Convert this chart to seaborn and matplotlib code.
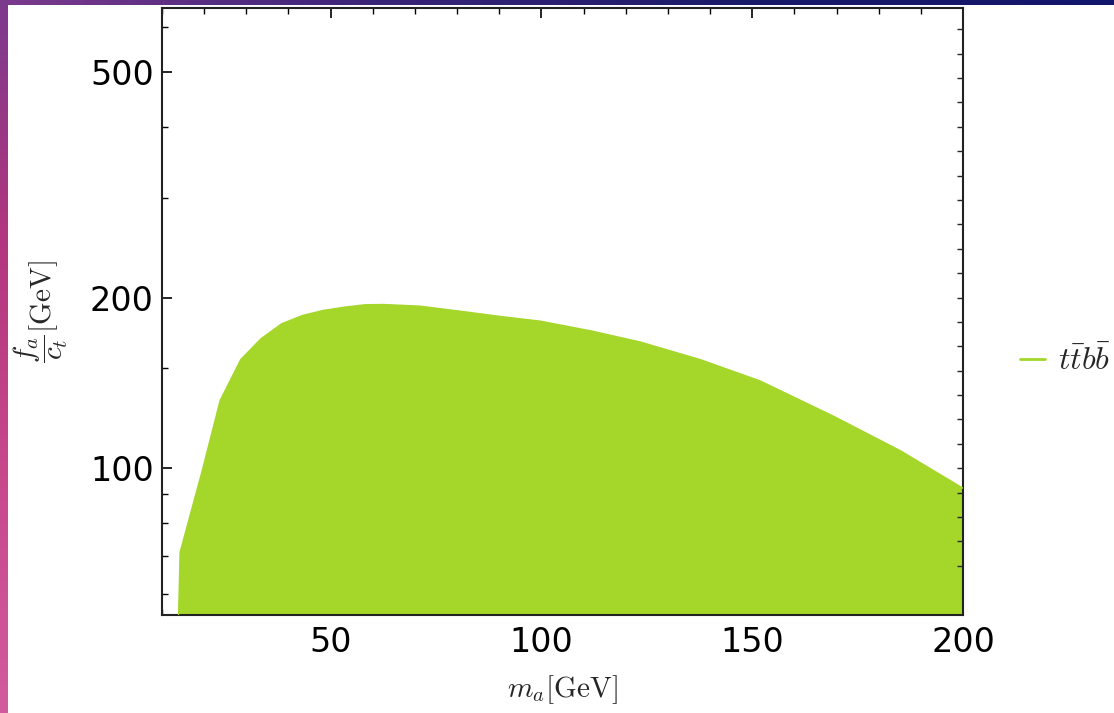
import numpy as np
import pandas as pd
import matplotlib
matplotlib.use("Agg")
import matplotlib.pyplot as plt
from matplotlib.ticker import FixedLocator, FixedFormatter, NullFormatter
from matplotlib.colors import LinearSegmentedColormap
import seaborn as sns

# Exclusion boundary for the t tbar b bbar channel
m_a = [13.8, 14.3, 19.7, 23.8, 28.7, 33.5, 38.4, 43.4, 48.3, 53.3, 58.2, 62.5,
       71.2, 80.7, 90.2, 99.7, 112.0, 123.5, 137.7, 151.9, 169.3, 185.2, 200.0]
fa_over_ct = [50.0, 71.1, 100.0, 131.7, 155.5, 169.2, 179.8, 186.0, 189.8, 192.3, 194.2, 194.4,
              193.1, 189.2, 185.2, 181.7, 174.5, 166.9, 155.4, 142.5, 123.5, 107.3, 92.2]
series_label = r"$t\bar{t}b\bar{b}$"
fill_color = "#a5d62a"

x_limits = (10, 200)
y_limits = (55.1, 648)
x_major = [50, 100, 150, 200]
x_minor = list(range(10, 201, 10))
y_major = [100, 200, 500]
y_major_labels = ["100", "200", "500"]
y_minor = [60, 70, 80, 90, 150, 300, 400, 600]

sns.set_theme(style="white")
plt.rcParams["font.family"] = ["DejaVu Sans"]
plt.rcParams["mathtext.fontset"] = "cm"

df = pd.DataFrame({"m_a": m_a, "fa": fa_over_ct})

fig = plt.figure(figsize=(11.14, 7.13), dpi=100)
fig.patch.set_facecolor("white")

# decorative gradient frame on the top and left edges
left_cmap = LinearSegmentedColormap.from_list("lf", ["#7c3a8d", "#b2367f", "#c8488c", "#d25a9f"])
top_cmap = LinearSegmentedColormap.from_list("tp", ["#7c3a8d", "#3a2478", "#1a1a6a", "#12166a"])
ax_l = fig.add_axes([0, 0, 8 / 1114, 1])
ax_l.imshow(np.linspace(0, 1, 256)[:, None], aspect="auto", cmap=left_cmap)
ax_l.axis("off")
ax_t = fig.add_axes([0, 1 - 5 / 713, 1, 5 / 713])
ax_t.imshow(np.linspace(0, 1, 256)[None, :], aspect="auto", cmap=top_cmap)
ax_t.axis("off")

ax = fig.add_axes([162 / 1114, 1 - 615 / 713, (963 - 162) / 1114, (615 - 8) / 713])
ax.set_facecolor("white")

ax.fill_between(df["m_a"], 1.0, df["fa"], color=fill_color, linewidth=0, zorder=2)
sns.lineplot(data=df, x="m_a", y="fa", ax=ax, color=fill_color, linewidth=1.0,
             label=series_label, sort=False, zorder=3)

ax.set_yscale("log")
ax.set_xlim(*x_limits)
ax.set_ylim(*y_limits)

ax.xaxis.set_major_locator(FixedLocator(x_major))
ax.xaxis.set_minor_locator(FixedLocator([v for v in x_minor if v not in x_major]))
ax.yaxis.set_major_locator(FixedLocator(y_major))
ax.yaxis.set_major_formatter(FixedFormatter(y_major_labels))
ax.yaxis.set_minor_locator(FixedLocator(y_minor))
ax.yaxis.set_minor_formatter(NullFormatter())

ax.tick_params(axis="both", which="both", direction="in", colors="black", labelsize=24)
ax.tick_params(axis="x", which="both", top=True, bottom=True, pad=8)
ax.tick_params(axis="y", which="both", left=True, right=False, pad=6)
ax.tick_params(which="major", length=7, width=1.2)
ax.tick_params(which="minor", length=4.5, width=1.0)
for sp in ax.spines.values():
    sp.set_color("#222222")
    sp.set_linewidth(1.5)

# right-hand frame ticks on an unlabeled companion axis
ax2 = ax.twinx()
ax2.set_yscale("log")
ax2.set_ylim(*y_limits)
right_ticks = [100 * 2 ** (k / 7) for k in range(-4, 21)]
ax2.yaxis.set_major_locator(FixedLocator(right_ticks))
ax2.yaxis.set_minor_locator(FixedLocator([]))
ax2.yaxis.set_major_formatter(NullFormatter())
ax2.tick_params(axis="y", which="both", direction="in", length=4.5, width=1.0, right=True)
for sp in ax2.spines.values():
    sp.set_visible(False)
ax2.grid(False)

ax.set_xlabel(r"$m_a[\mathrm{GeV}]$", fontsize=21, labelpad=10)
ax.set_ylabel(r"$\dfrac{f_a}{c_t}[\mathrm{GeV}]$", fontsize=21, labelpad=14)
ax.grid(False)

ax.legend(loc="center left", bbox_to_anchor=(1.035, 0.417), frameon=False,
          fontsize=23, handlelength=0.8, handletextpad=0.4)
leg = ax.get_legend()
for line in leg.get_lines():
    line.set_linewidth(2.0)

fig.savefig("out.png", dpi=100, facecolor=fig.get_facecolor())
